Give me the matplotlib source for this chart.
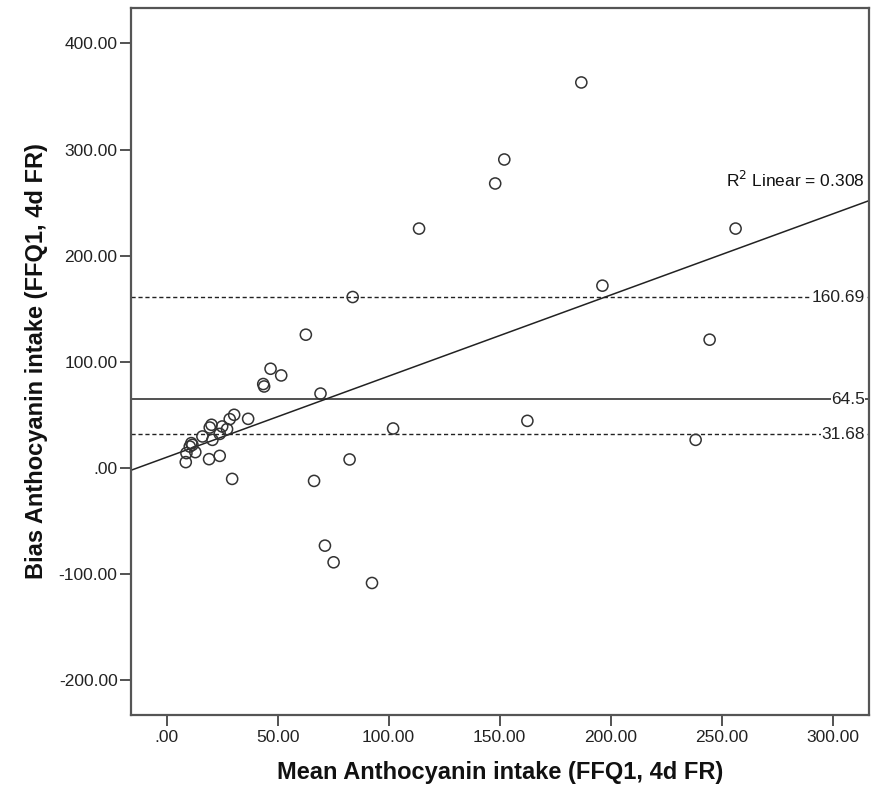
import matplotlib
matplotlib.use("Agg")
import matplotlib.pyplot as plt
import numpy as np

plt.rcParams['font.family'] = ['Liberation Sans', 'DejaVu Sans']

# mean of the two methods (x) and bias (y)
mean_intake = [186.8, 152.1, 148.0, 113.7, 256.3, 196.3, 83.8, 62.7, 244.6,
               46.8, 51.6, 43.5, 43.9, 69.3, 30.4, 28.4, 36.7, 20.2, 19.4,
               25.0, 27.2, 23.9, 16.1, 20.6, 11.1, 10.4, 11.6, 8.9, 12.9,
               8.6, 19.1, 23.9, 29.5, 66.4, 102.0, 82.4, 71.3, 75.2, 92.5,
               162.5, 238.3]
bias_intake = [363.2, 290.6, 268.0, 225.5, 225.5, 171.7, 161.0, 125.5, 120.8,
               93.4, 87.1, 79.0, 76.7, 70.0, 50.0, 45.9, 46.2, 40.6, 38.0,
               39.0, 36.5, 32.0, 29.6, 26.4, 23.3, 20.1, 21.7, 13.9, 14.8,
               5.4, 8.2, 11.3, -10.4, -12.3, 37.1, 7.9, -73.3, -89.0, -108.5,
               44.3, 26.4]

# reference lines as labelled on the chart
mean_bias = 64.5
upper_loa = 160.69
lower_loa = 31.68
r2_label = "R$^2$ Linear = 0.308"

xticks = [0, 50, 100, 150, 200, 250, 300]
yticks = [-200, -100, 0, 100, 200, 300, 400]

def fmt(v):
    s = "%.2f" % v
    return s[1:] if s.startswith("0") else s

fig = plt.figure(figsize=(8.88, 7.97), dpi=100)
ax = fig.add_axes([0.1472, 0.1029, 0.8314, 0.8871])

xlim = (-16.2, 316.4)
ax.set_xlim(*xlim)
ax.set_ylim(-232.9, 433.4)

ax.scatter(mean_intake, bias_intake, s=64, facecolors='none',
           edgecolors='#333333', linewidths=1.1, zorder=3)

# linear fit
slope, inter = np.polyfit(mean_intake, bias_intake, 1)
xs = np.array(xlim)
ax.plot(xs, inter + slope * xs, color='#222222', lw=1.1, zorder=2)

ax.axhline(mean_bias, color='#222222', lw=1.1, zorder=2)
ax.axhline(upper_loa, color='#222222', lw=1.0, ls=(0, (3, 2)), zorder=2)
ax.axhline(lower_loa, color='#222222', lw=1.0, ls=(0, (3, 2)), zorder=2)

for v, lab in [(upper_loa, "160.69"), (mean_bias, "64.5"), (lower_loa, "31.68")]:
    ax.text(xlim[1] - 1.8, v, lab, ha='right', va='center', fontsize=12.5,
            color='#222222',
            bbox=dict(facecolor='white', edgecolor='none', pad=0.3), zorder=4)

ax.text(xlim[1] - 1.8, 262, r2_label, ha='right', va='bottom', fontsize=12.5,
        color='#111111')

ax.set_xticks(xticks)
ax.set_xticklabels([fmt(v) for v in xticks])
ax.set_yticks(yticks)
ax.set_yticklabels([fmt(v) for v in yticks])
ax.tick_params(axis='both', direction='out', length=8, width=1.3,
               color='#444444', labelsize=12.5, labelcolor='#222222')
ax.tick_params(axis='x', pad=2.5)
ax.tick_params(axis='y', pad=1.5)

for sp in ax.spines.values():
    sp.set_color('#555555')
    sp.set_linewidth(1.6)

ax.set_xlabel("Mean Anthocyanin intake (FFQ1, 4d FR)", fontsize=17,
              fontweight='bold', labelpad=12, color='#111111')
ax.set_ylabel("Bias Anthocyanin intake (FFQ1, 4d FR)", fontsize=17,
              fontweight='bold', labelpad=8, color='#111111')

fig.savefig("out.png", dpi=100)
